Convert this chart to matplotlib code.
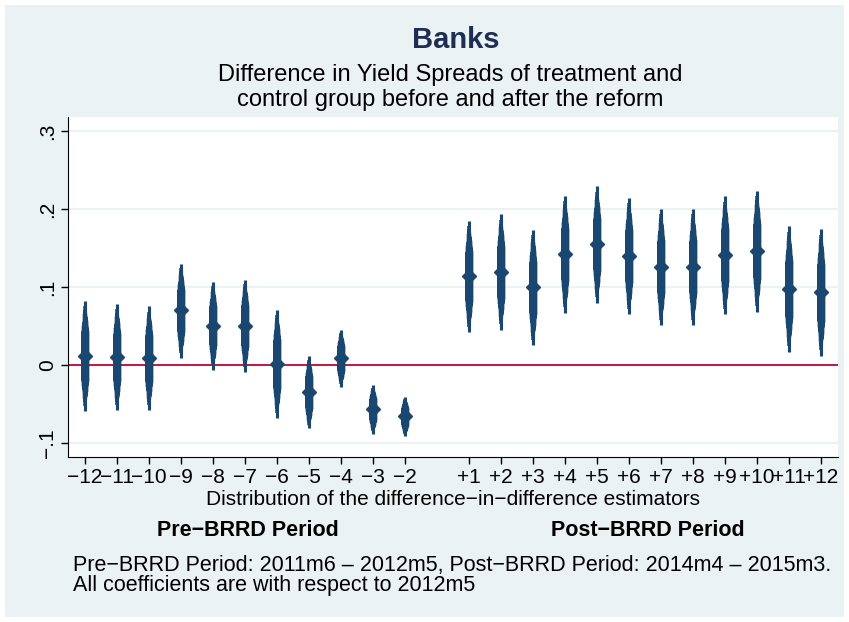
import matplotlib
matplotlib.use("Agg")
import matplotlib.pyplot as plt
from matplotlib.patches import Rectangle
import numpy as np
from statistics import NormalDist

plt.rcParams['font.family'] = ['Liberation Sans', 'DejaVu Sans']

# event time relative to 2012m5 (reference month -1 omitted)
event_time = [-12, -11, -10, -9, -8, -7, -6, -5, -4, -3, -2,
              1, 2, 3, 4, 5, 6, 7, 8, 9, 10, 11, 12]
tick_labels = ["−12", "−11", "−10", "−9", "−8", "−7", "−6", "−5", "−4", "−3", "−2",
               "+1", "+2", "+3", "+4", "+5", "+6", "+7", "+8", "+9", "+10", "+11", "+12"]
coef = [0.0115, 0.010, 0.0086, 0.070, 0.0505, 0.0505, 0.0013, -0.035, 0.0086, -0.057, -0.066,
        0.1137, 0.1197, 0.0996, 0.142, 0.155, 0.140, 0.126, 0.126, 0.141, 0.1467, 0.098, 0.093]
# outer (99%) confidence bounds
ci_lo = [-0.059, -0.058, -0.058, 0.009, -0.006, -0.0085, -0.068, -0.081, -0.028, -0.088, -0.091,
         0.042, 0.045, 0.025, 0.067, 0.080, 0.065, 0.051, 0.051, 0.065, 0.0684, 0.0167, 0.011]
ci_hi = [0.082, 0.078, 0.075, 0.130, 0.1064, 0.1095, 0.071, 0.011, 0.045, -0.026, -0.041,
         0.185, 0.193, 0.1736, 0.217, 0.229, 0.2146, 0.2005, 0.2005, 0.217, 0.2236, 0.178, 0.1744]

navy = "#1a476f"
bg = "#eaf2f3"
W, H = 849, 622

fig = plt.figure(figsize=(W / 100, H / 100), dpi=100, facecolor="white")
fig.patches.append(Rectangle((5 / W, 5 / H), (W - 10) / W, (H - 10) / H,
                             transform=fig.transFigure, facecolor=bg, edgecolor="none", zorder=-10))

ax = fig.add_axes([68 / W, (H - 457) / H, (838 - 68) / W, (457 - 117) / H])
ax.set_facecolor("white")

xpos = np.array([t if t < 0 else t - 1 for t in event_time])
lo = np.array(ci_lo)
hi = np.array(ci_hi)
mid = (lo + hi) / 2
half99 = (hi - lo) / 2
z99 = NormalDist().inv_cdf(0.995)

# smoothed confidence spindles: many levels, thicker for narrower intervals
for lev in np.arange(99, 0, -1):
    z = NormalDist().inv_cdf(0.5 + lev / 200)
    h = half99 * z / z99
    lw_px = 2.0 + 5.5 * min(1.0, (100 - lev) / 25) ** 0.5
    ax.vlines(xpos, mid - h, mid + h, color=navy, lw=lw_px * 0.72, capstyle="butt", zorder=3)

ax.plot(xpos, coef, "D", color=navy, ms=7, mec=navy, zorder=4)

ax.axhline(0, color="#c10534", lw=1.3, zorder=2)

ax.set_ylim(-0.118, 0.318)
ax.set_xlim(-12.53, 11.53)
ax.set_yticks([-0.1, 0, 0.1, 0.2, 0.3])
ax.set_yticklabels(["−.1", "0", ".1", ".2", ".3"], rotation=90, va="center", fontsize=15)
ax.set_xticks(xpos)
ax.set_xticklabels(tick_labels, fontsize=15)
ax.grid(axis="y", color=bg, lw=1.5, zorder=1)
ax.set_axisbelow(True)
for s in ["top", "right"]:
    ax.spines[s].set_visible(False)
ax.tick_params(length=5, width=1, pad=3)

ax.set_xlabel("Distribution of the difference−in−difference estimators", fontsize=15, labelpad=2)


def ftext(x, y, s, **kw):
    fig.text(x / W, 1 - y / H, s, **kw)


ftext(456, 40, "Banks", fontsize=21, fontweight="bold", color="#1e2d53", ha="center", va="center")
ftext(450, 75, "Difference in Yield Spreads of treatment and", fontsize=17, ha="center", va="center")
ftext(450, 100, "control group before and after the reform", fontsize=17, ha="center", va="center")
ftext(248, 530, "Pre−BRRD Period", fontsize=15.5, fontweight="bold", ha="center", va="center")
ftext(648, 530, "Post−BRRD Period", fontsize=15.5, fontweight="bold", ha="center", va="center")
ftext(73, 565, "Pre−BRRD Period: 2011m6 – 2012m5, Post−BRRD Period: 2014m4 – 2015m3.",
      fontsize=15.5, ha="left", va="center")
ftext(73, 585, "All coefficients are with respect to 2012m5", fontsize=15.5, ha="left", va="center")

fig.savefig("out.png", dpi=100, facecolor="white")
